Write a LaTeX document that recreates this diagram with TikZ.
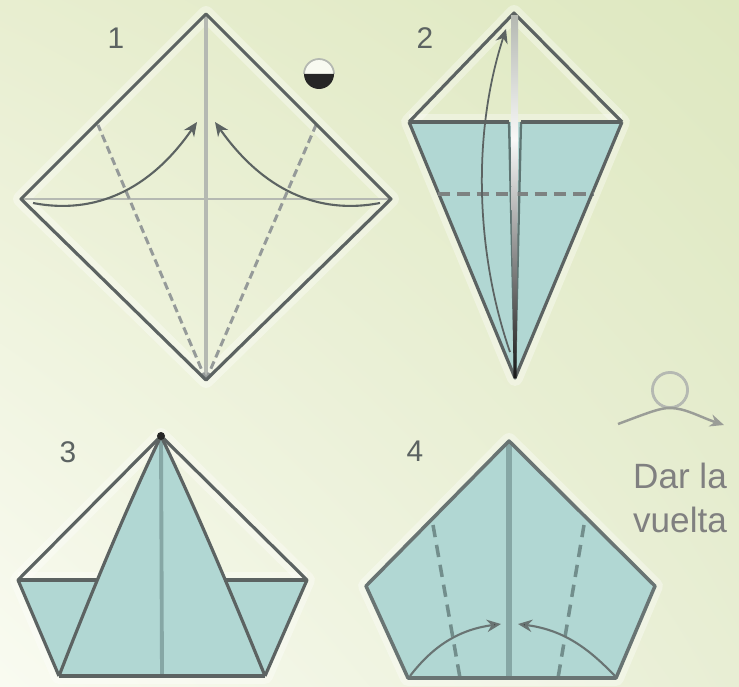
\documentclass[tikz,border=0pt]{standalone}
\usepackage{fontspec}
\setmainfont{Liberation Sans}
\usepackage{tikz}
\usetikzlibrary{arrows.meta,positioning,calc,shadings}
\definecolor{paper}{HTML}{B1D7D3}
\definecolor{edge}{HTML}{5C6362}
\definecolor{crease}{HTML}{B5B9B2}
\definecolor{tealcrease}{HTML}{86A7A5}
\definecolor{bgul}{HTML}{E8EED0}
\definecolor{bgur}{HTML}{DEE8C0}
\definecolor{bgll}{HTML}{F9FBF1}
\definecolor{bglr}{HTML}{E8EED4}
\tikzset{
    outline/.style={draw=edge, line width=1.8pt, line join=round},
    halo/.style={draw=white, opacity=0.35, line width=9pt, line join=round},
    valley/.style={draw=edge!65, line width=1.7pt, dash pattern=on 4.5pt off 2.5pt},
    flip/.style={-{Stealth[length=8pt,width=7pt]}, draw=edge, line width=1.2pt},
    number/.style={text=edge, font=\fontsize{17}{17}\selectfont},
}

\begin{document}
\begin{tikzpicture}[x=0.02cm, y=-0.02cm]
    % Background
    \shade[upper left=bgul, upper right=bgur, lower left=bgll, lower right=bglr]
        (0, 686) rectangle (739, 0);
    \useasboundingbox (0, 0) rectangle (739, 686);

    % Square 1
    \coordinate (a1) at (206, 14);
    \coordinate (b1) at (391, 199);
    \coordinate (c1) at (206, 380);
    \coordinate (d1) at (21, 199);
    \draw[halo] (a1) -- (b1) -- (c1) -- (d1) -- cycle;
    \draw[crease, line width=1.8pt] (a1) -- (c1);
    \draw[crease, line width=1.2pt] (d1) -- (b1);
    \draw[valley] (c1) -- (98, 125);
    \draw[valley] (c1) -- (316, 125);
    \draw[outline] (a1) -- (b1) -- (c1) -- (d1) -- cycle;
    \draw[flip] (33, 203) .. controls (95, 215) and (150, 190) .. (197, 122);
    \draw[flip] (380, 203) .. controls (318, 215) and (263, 190) .. (215, 122);
    \node[number] (n1) at (116, 38) {1};

    % Half circle mark
    \coordinate (m1) at (319, 74);
    \fill[white!70!bgul] ($(m1)+(-15, 0)$) arc[start angle=180, end angle=360, radius=15] -- cycle;
    \draw[crease, line width=1pt] ($(m1)+(-15, 0)$) arc[start angle=180, end angle=360, radius=15];
    \fill[black!85] ($(m1)+(-15, 0)$) arc[start angle=180, end angle=0, radius=15] -- cycle;

    % Kite 2
    \coordinate (a2) at (514, 13);
    \coordinate (b2) at (622, 122);
    \coordinate (c2) at (515, 378);
    \coordinate (d2) at (409, 122);
    \draw[halo] (a2) -- (b2) -- (c2) -- (d2) -- cycle;
    \draw[halo] (d2) -- (b2);
    \fill[paper] (d2) -- (b2) -- (c2) -- cycle;
    \draw[outline] (d2) -- (a2) -- (b2);
    \draw[outline, line width=1.3pt, draw=tealcrease!70!black] (509, 122) -- (c2) -- (521, 122);
    \draw[outline, line width=2.4pt] (d2) -- (509, 122);
    \draw[outline, line width=2.4pt] (b2) -- (521, 122);
    \draw[outline] (d2) -- (c2) -- (b2);
    \draw[valley, draw=edge!80, line width=1.8pt, dash pattern=on 7pt off 4pt] (438, 194) -- (594, 194);
    \shade[top color=crease, bottom color=white!90!crease, shading angle=0] (511, 16) rectangle (518, 140);
    \shade[top color=white!90!crease, bottom color=black!90, shading angle=0]
        (511, 140) -- (518, 140) -- (516.5, 378) -- (513.5, 378) -- cycle;
    \draw[flip, line width=1pt] (510, 352) .. controls (478, 260) and (470, 140) .. (506, 29);
    \node[number] (n2) at (425, 38) {2};

    % Boat 3
    \coordinate (a3) at (161, 436);
    \coordinate (b3) at (307, 580);
    \coordinate (c3) at (265, 676);
    \coordinate (d3) at (59, 676);
    \coordinate (e3) at (18, 580);
    \coordinate (f3) at (98, 580);
    \coordinate (g3) at (224, 580);
    \draw[halo] (a3) -- (b3) -- (c3) -- (d3) -- (e3) -- cycle;
    \draw[halo] (e3) -- (f3);
    \draw[halo] (g3) -- (b3);
    \fill[paper] (e3) -- (b3) -- (c3) -- (d3) -- cycle;
    \fill[paper] (a3) .. controls (135, 490) and (100, 570) .. (d3) -- (c3)
        .. controls (222, 570) and (187, 490) .. (a3) -- cycle;
    \draw[draw=tealcrease, line width=2.2pt] (a3) -- ($(d3)!0.5!(c3)$);
    \draw[outline] (a3) -- (b3) -- (c3);
    \draw[outline] (a3) -- (e3) -- (d3);
    \draw[outline, line width=2.5pt] (e3) -- (f3);
    \draw[outline, line width=2.5pt] (g3) -- (b3);
    \draw[outline, line width=2.5pt] (d3) -- (c3);
    \draw[outline] (a3) .. controls (135, 490) and (100, 570) .. (d3);
    \draw[outline] (a3) .. controls (187, 490) and (222, 570) .. (c3);
    \fill[black!85] (a3) circle (4);
    \node[number] (n3) at (68, 452) {3};

    % Pentagon 4
    \coordinate (a4) at (509, 441);
    \coordinate (b4) at (655, 586);
    \coordinate (c4) at (616, 678);
    \coordinate (d4) at (408, 678);
    \coordinate (e4) at (366, 586);
    \draw[halo] (a4) -- (b4) -- (c4) -- (d4) -- (e4) -- cycle;
    \fill[paper] (a4) -- (b4) -- (c4) -- (d4) -- (e4) -- cycle;
    \draw[draw=tealcrease, line width=3.6pt] (a4) -- (509, 678);
    \draw[valley, draw=tealcrease!85!black, line width=2pt, dash pattern=on 7pt off 4.5pt] (433, 525) -- (460, 678);
    \draw[valley, draw=tealcrease!85!black, line width=2pt, dash pattern=on 7pt off 4.5pt] (584, 525) -- (558, 678);
    \draw[outline, draw=edge!85!paper, line width=2pt] (a4) -- (b4) -- (c4) -- (d4) -- (e4) -- cycle;
    \draw[outline, draw=edge!85!paper, line width=2.8pt] (d4) -- (c4);
    \draw[flip, draw=edge!85!paper, -{Stealth[length=8pt,width=7pt,fill=black!80]}] (410, 676) .. controls (430, 650) and (455, 630) .. (501, 624);
    \draw[flip, draw=edge!85!paper, -{Stealth[length=8pt,width=7pt,fill=black!80]}] (615, 676) .. controls (590, 650) and (565, 630) .. (518, 624);
    \node[number] (n4) at (415, 451) {4};

    % Turn over mark
    \node[draw=crease, line width=1.6pt, circle, minimum size=20pt, inner sep=0pt] (turn) at (670, 390) {};
    \coordinate (t1) at (618, 424);
    \coordinate (t2) at (724, 425);
    \draw[flip, draw=crease!85!black, line width=1.4pt, -{Stealth[length=8pt,width=7pt,fill=black!75]}] (t1) .. controls (650, 412) and (660, 408) .. (670, 408)
        .. controls (685, 408) and (700, 417) .. (t2);
    \node[text=black!50, font=\fontsize{20}{25}\selectfont, align=center] (label) at (680, 498) {Dar la\\vuelta};
\end{tikzpicture}
\end{document}
